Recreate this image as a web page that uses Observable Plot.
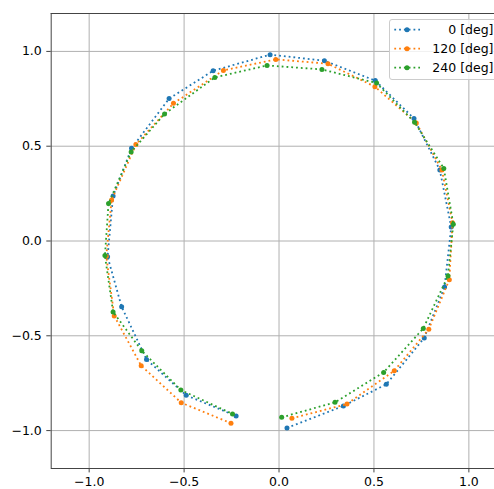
<!DOCTYPE html>
<html>
<head>
<meta charset="utf-8">
<script src="https://cdn.jsdelivr.net/npm/d3@7"></script>
<script src="https://cdn.jsdelivr.net/npm/@observablehq/plot@0.6"></script>
<style>
  html, body { margin: 0; padding: 0; background: #fff; }
  svg { display: block; }
</style>
</head>
<body>
<div id="chart"></div>
<script>
// Series labels and colours
const seriesLabels = ["  0 [deg]", "120 [deg]", "240 [deg]"];
const seriesColors = ["#1f77b4", "#ff7f0e", "#2ca02c"];

// 0 [deg]
const x0 = [0.042, 0.339, 0.565, 0.765, 0.872, 0.907, 0.847, 0.711, 0.507, 0.239, -0.047, -0.347, -0.579, -0.777, -0.874, -0.903, -0.829, -0.698, -0.489, -0.226];
const y0 = [-0.986, -0.870, -0.756, -0.511, -0.242, 0.074, 0.374, 0.646, 0.846, 0.951, 0.983, 0.898, 0.751, 0.489, 0.238, -0.083, -0.347, -0.625, -0.814, -0.923];

// 120 [deg]
const x120 = [0.068, 0.358, 0.607, 0.789, 0.897, 0.914, 0.858, 0.723, 0.505, 0.258, -0.017, -0.293, -0.556, -0.754, -0.882, -0.910, -0.868, -0.726, -0.515, -0.253];
const y120 = [-0.935, -0.860, -0.684, -0.465, -0.204, 0.096, 0.374, 0.623, 0.814, 0.935, 0.958, 0.900, 0.726, 0.509, 0.216, -0.080, -0.395, -0.658, -0.853, -0.961];

// 240 [deg]
const x240 = [0.014, 0.295, 0.551, 0.760, 0.890, 0.918, 0.868, 0.714, 0.514, 0.226, -0.063, -0.338, -0.603, -0.779, -0.898, -0.917, -0.874, -0.723, -0.517, -0.245];
const y240 = [-0.930, -0.851, -0.693, -0.461, -0.184, 0.089, 0.383, 0.626, 0.833, 0.905, 0.926, 0.863, 0.670, 0.470, 0.198, -0.077, -0.374, -0.579, -0.786, -0.912];

const tickValues = [-1, -0.5, 0, 0.5, 1];
const tickLabels = ["\u22121.0", "\u22120.5", "0.0", "0.5", "1.0"];

const xs = [x0, x120, x240];
const ys = [y0, y120, y240];
const series = seriesLabels.map((label, i) =>
  xs[i].map((x, j) => ({series: label, x, y: ys[i][j]}))
);

const fontFamily = "DejaVu Sans, sans-serif";
const fmt = d => tickLabels[tickValues.indexOf(d)];

const seriesMarks = series.flatMap((data, i) => [
  Plot.line(data, {x: "x", y: "y", stroke: seriesColors[i], strokeWidth: 1.8, strokeDasharray: "1.8,3", strokeLinecap: "butt", curve: "linear"}),
  Plot.dot(data, {x: "x", y: "y", fill: seriesColors[i], r: 2.5, stroke: "none"})
]);

const chart = Plot.plot({
  width: 494,
  height: 489,
  marginLeft: 50.7,
  marginRight: 0,
  marginTop: 13,
  marginBottom: 21,
  style: {fontFamily, fontSize: "12.5px", color: "#000", background: "#fff"},
  x: {domain: [-1.2, 1.135], label: null},
  y: {domain: [-1.2, 1.2], label: null},
  marks: [
    Plot.gridX(tickValues, {stroke: "#b0b0b0", strokeOpacity: 1, strokeWidth: 1}),
    Plot.gridY(tickValues, {stroke: "#b0b0b0", strokeOpacity: 1, strokeWidth: 1}),
    Plot.ruleX([-1.2], {stroke: "#444", strokeWidth: 1}),
    Plot.ruleY([-1.2, 1.2], {stroke: "#444", strokeWidth: 1}),
    Plot.axisX(tickValues, {tickFormat: fmt, tickSize: 4.4, tickPadding: 4, stroke: "#444", fontSize: 12.5, label: null}),
    Plot.axisY(tickValues, {tickFormat: fmt, tickSize: 4.4, tickPadding: 5, stroke: "#444", fontSize: 12.5, label: null}),
    ...seriesMarks
  ]
});

document.getElementById("chart").appendChild(chart);

// Legend (matplotlib-style, upper right)
const svg = d3.select(chart);
const lg = svg.append("g").attr("font-family", fontFamily).attr("font-size", 12.5);
lg.append("rect")
  .attr("x", 389.5).attr("y", 19.5).attr("width", 130).attr("height", 60)
  .attr("rx", 2.5)
  .attr("fill", "#fff").attr("fill-opacity", 0.8)
  .attr("stroke", "#cccccc").attr("stroke-width", 1);
const rowY = [29.7, 48.7, 67.7];
seriesLabels.forEach((label, i) => {
  const y = rowY[i];
  lg.append("line")
    .attr("x1", 394.3).attr("x2", 420).attr("y1", y).attr("y2", y)
    .attr("stroke", seriesColors[i]).attr("stroke-width", 1.8)
    .attr("stroke-dasharray", "1.8,3");
  lg.append("circle").attr("cx", 407).attr("cy", y).attr("r", 2.5).attr("fill", seriesColors[i]);
  lg.append("text")
    .attr("x", 493.5).attr("y", y).attr("dy", "0.35em")
    .attr("text-anchor", "end").attr("fill", "#000")
    .text(label.trim());
});
</script>
</body>
</html>
